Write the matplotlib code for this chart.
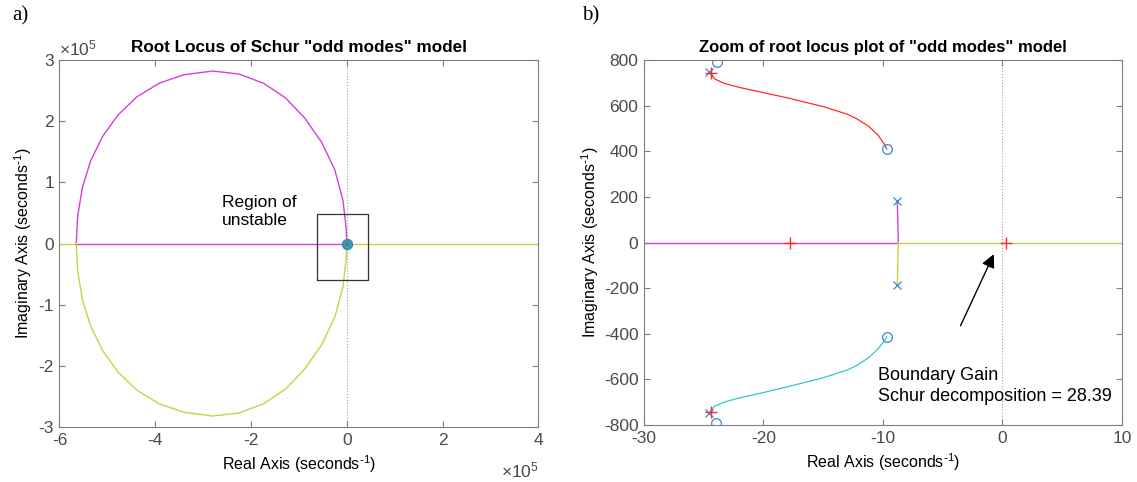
import matplotlib.pyplot as plt

plt.rcParams['font.family'] = ['Liberation Sans', 'DejaVu Sans']
plt.rcParams['axes.unicode_minus'] = False
plt.rcParams['mathtext.default'] = 'regular'

# ---- panel a) data, units of 1e5 ----
upper_re = [-5.65, -5.62, -5.52, -5.35, -5.10, -4.78, -4.38, -3.92, -3.40, -2.80,
            -2.25, -1.74, -1.28, -0.88, -0.53, -0.25, -0.08, -0.015, 0.0]
upper_im = [0.0, 0.45, 0.92, 1.35, 1.75, 2.10, 2.40, 2.62, 2.76, 2.82,
            2.77, 2.62, 2.38, 2.05, 1.66, 1.20, 0.70, 0.25, 0.0]
lower_re = upper_re
lower_im = [0.0, -0.45, -0.92, -1.35, -1.75, -2.10, -2.40, -2.62, -2.76, -2.82,
            -2.77, -2.62, -2.38, -2.05, -1.66, -1.20, -0.70, -0.25, 0.0]
box_re = [-0.626, 0.438]
box_im = [-0.604, 0.484]

# ---- panel b) data ----
red_re = [-24.48, -24.10, -23.30, -22.00, -20.50, -17.80, -15.00, -13.00, -12.20, -11.20,
          -10.40, -9.90, -9.69]
red_im = [741.7, 718.0, 698.0, 680.0, 663.0, 632.0, 596.0, 563.0, 543.0, 510.0,
          470.0, 432.0, 409.8]
cyan_re = [-24.48, -24.10, -23.30, -22.00, -20.50, -17.80, -15.00, -13.00, -12.20, -11.20,
           -10.40, -9.90, -9.69]
cyan_im = [-741.9, -718.0, -700.0, -681.0, -664.0, -630.0, -593.0, -559.0, -539.0, -505.0,
           -465.0, -432.0, -413.0]
zeros_re = [-23.92, -9.69, -9.69, -23.97]
zeros_im = [792.5, 409.8, -413.0, -792.7]
poles_re = [-24.56, -8.80, -8.80, -24.56]
poles_im = [748.0, 181.9, -186.0, -748.0]
cl_re = [-24.40, -17.8, 0.29, -24.40]
cl_im = [742.0, 0.0, 0.0, -742.0]
branch_re = -8.72

MAG = '#d63fd6'
YEL = '#cfcf45'
CYA = '#2fc8cf'
RED = '#ff2b2b'
BLU = '#3588d8'
GRAY = '#7f7f7f'
TXT = '#4a4a4a'
UNIT = r'(seconds$^{\text{-}1}$)'

fig = plt.figure(figsize=(11.37, 4.82), dpi=100)
ax1 = fig.add_axes([0.0523, 0.1141, 0.4213, 0.7614])
ax2 = fig.add_axes([0.5664, 0.1183, 0.4204, 0.7570])


def style(ax):
    for s in ax.spines.values():
        s.set_color(GRAY)
        s.set_linewidth(0.8)
    ax.tick_params(direction='in', length=4, width=0.8, color=GRAY, labelcolor=TXT,
                   labelsize=12.5, top=True, right=True, pad=4)


# -------- a) --------
ax1.axvline(0, color='#a0a0a0', ls=':', lw=0.8, zorder=0)
ax1.plot([-6, upper_re[0]], [0, 0], color=YEL, lw=1)
ax1.plot([0, 4], [0, 0], color=YEL, lw=1)
ax1.plot([upper_re[0], 0], [0, 0], color=MAG, lw=1)
ax1.plot(upper_re, upper_im, color=MAG, lw=1)
ax1.plot(lower_re, lower_im, color=YEL, lw=1)
ax1.plot([box_re[0], box_re[1], box_re[1], box_re[0], box_re[0]],
         [box_im[0], box_im[0], box_im[1], box_im[1], box_im[0]], color='#333333', lw=0.9)
ax1.plot([0], [0], 'o', color=BLU, ms=7, mfc=BLU, alpha=0.85)
ax1.plot([0], [0], 'x', color='#3aa03a', ms=4, mew=1)
ax1.plot([0], [0], 'o', color=BLU, ms=7, mfc='none', mew=1)
ax1.text(-2.61, 0.53, 'Region of\nunstable', fontsize=12.5, va='center', ha='left',
         linespacing=1.25)
ax1.set_xlim(-6, 4)
ax1.set_ylim(-3, 3)
ax1.set_xticks([-6, -4, -2, 0, 2, 4])
ax1.set_yticks([-3, -2, -1, 0, 1, 2, 3])
style(ax1)
ax1.set_title('Root Locus of Schur "odd modes" model', fontsize=12.3, fontweight='bold', pad=6)
ax1.set_xlabel('Real Axis ' + UNIT, fontsize=11.5, labelpad=4)
ax1.set_ylabel('Imaginary Axis ' + UNIT, fontsize=11.5, labelpad=3)
ax1.text(0.0, 1.005, r'$\times$10$^5$', transform=ax1.transAxes, fontsize=12.5, color=TXT,
         ha='left', va='bottom')
ax1.text(1.0, -0.09, r'$\times$10$^5$', transform=ax1.transAxes, fontsize=12.5, color=TXT,
         ha='right', va='top')

# -------- b) --------
ax2.axvline(0, color='#a0a0a0', ls=':', lw=0.8, zorder=0)
ax2.plot([-30, branch_re], [0, 0], color=MAG, lw=1)
ax2.plot([branch_re, poles_re[1]], [0, poles_im[1]], color=MAG, lw=1)
ax2.plot([branch_re, 10], [0, 0], color=YEL, lw=1)
ax2.plot([branch_re, poles_re[2]], [0, poles_im[2]], color=YEL, lw=1)
ax2.plot(red_re, red_im, color=RED, lw=0.9)
ax2.plot(cyan_re, cyan_im, color=CYA, lw=0.9)
ax2.plot(zeros_re, zeros_im, 'o', color=BLU, ms=7, mfc='none', mew=0.9, ls='none')
ax2.plot(poles_re, poles_im, 'x', color=BLU, ms=6, mew=0.9, ls='none')
ax2.plot(cl_re, cl_im, '+', color=RED, ms=9, mew=1, ls='none')
ax2.annotate('', xy=(-0.63, -40), xytext=(-3.61, -376),
             arrowprops=dict(arrowstyle='-|>', color='black', lw=1, mutation_scale=20))
ax2.text(-10.39, -628, 'Boundary Gain\nSchur decomposition = 28.39', fontsize=13,
         va='center', ha='left', linespacing=1.3)
ax2.set_xlim(-30, 10)
ax2.set_ylim(-800, 800)
ax2.set_xticks([-30, -20, -10, 0, 10])
ax2.set_yticks(range(-800, 801, 200))
style(ax2)
ax2.set_title('Zoom of root locus plot of "odd modes" model', fontsize=12, fontweight='bold', pad=6)
ax2.set_xlabel('Real Axis ' + UNIT, fontsize=11.5, labelpad=4)
ax2.set_ylabel('Imaginary Axis ' + UNIT, fontsize=11.5, labelpad=2)

fig.text(0.011, 0.968, 'a)', family='Liberation Serif', fontsize=15, va='center')
fig.text(0.512, 0.968, 'b)', family='Liberation Serif', fontsize=15, va='center')

fig.savefig('out.png', dpi=100)
